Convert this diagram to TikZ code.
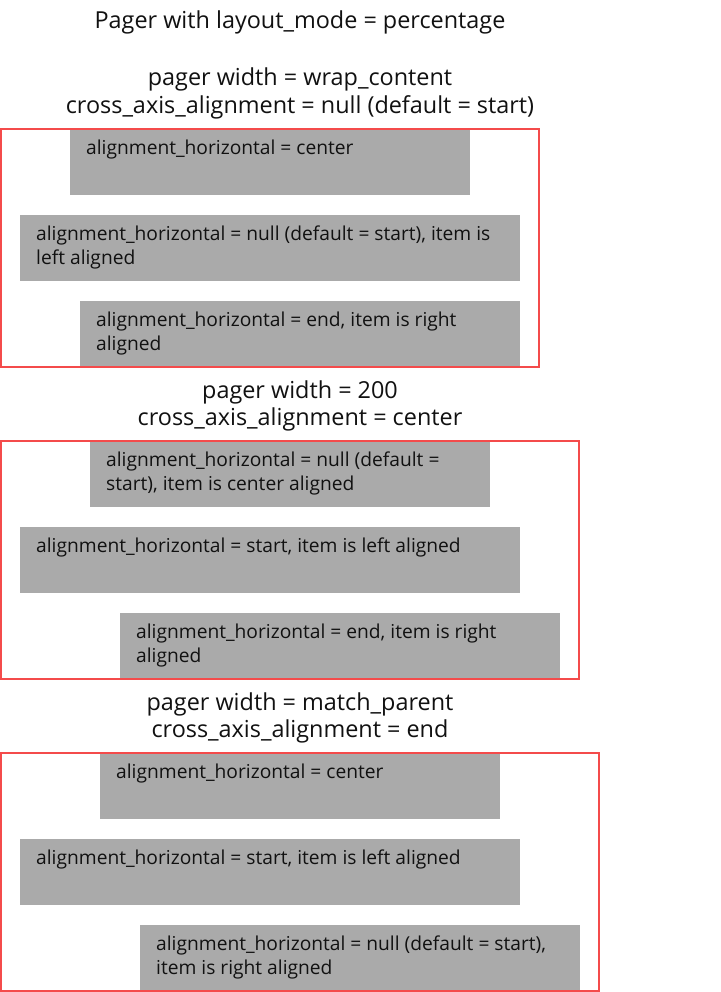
\documentclass[tikz,border=0pt]{standalone}
\usepackage{fontspec}
\setmainfont{Open Sans}
\definecolor{framered}{HTML}{F44B4B}
\definecolor{itemgray}{HTML}{AAAAAA}
\definecolor{inkc}{HTML}{111111}
\begin{document}
\begin{tikzpicture}[x=1pt,y=-1pt,
  item/.style={fill=itemgray},
  pagerframe/.style={draw=framered, line width=2pt},
  itemtext/.style={anchor=base west, inner sep=0pt, font=\fontsize{19.2}{24}\selectfont, text=inkc},
  header/.style={anchor=base, inner sep=0pt, font=\fontsize{23.4}{28}\selectfont, text=inkc}]
\useasboundingbox[fill=white] (0,0) rectangle (720,992);

% Title
\node[header] (title) at (300,28.7) {Pager with layout\_mode = percentage};

% ---------- Pager 1 ----------
\node[header] (h1a) at (300,86) {pager width = wrap\_content};
\node[header] (h1b) at (300,113.5) {cross\_axis\_alignment = null (default = start)};
\fill[item] (70,129) rectangle (470,195);
\fill[item] (20,215) rectangle (520,281);
\fill[item] (80,301) rectangle (520,367);
\node[itemtext] (p1a) at (86,154.7) {alignment\_horizontal = center};
\node[itemtext] (p1b1) at (36,240.7) {alignment\_horizontal = null (default = start), item is};
\node[itemtext] (p1b2) at (36,264.7) {left aligned};
\node[itemtext] (p1c1) at (96,326.7) {alignment\_horizontal = end, item is right};
\node[itemtext] (p1c2) at (96,350.7) {aligned};
\draw[pagerframe] (1,129) rectangle (539,367);

% ---------- Pager 2 ----------
\node[header] (h2a) at (300,398) {pager width = 200};
\node[header] (h2b) at (300,425.5) {cross\_axis\_alignment = center};
\fill[item] (90,441) rectangle (490,507);
\fill[item] (20,527) rectangle (520,593);
\fill[item] (120,613) rectangle (560,679);
\node[itemtext] (p2a1) at (106,466.7) {alignment\_horizontal = null (default =};
\node[itemtext] (p2a2) at (106,490.7) {start), item is center aligned};
\node[itemtext] (p2b) at (36,552.7) {alignment\_horizontal = start, item is left aligned};
\node[itemtext] (p2c1) at (136,638.7) {alignment\_horizontal = end, item is right};
\node[itemtext] (p2c2) at (136,662.7) {aligned};
\draw[pagerframe] (1,441) rectangle (579,679);

% ---------- Pager 3 ----------
\node[header] (h3a) at (300,710) {pager width = match\_parent};
\node[header] (h3b) at (300,737.5) {cross\_axis\_alignment = end};
\fill[item] (100,753) rectangle (500,819);
\fill[item] (20,839) rectangle (520,905);
\fill[item] (140,925) rectangle (580,991);
\node[itemtext] (p3a) at (116,778.7) {alignment\_horizontal = center};
\node[itemtext] (p3b) at (36,864.7) {alignment\_horizontal = start, item is left aligned};
\node[itemtext] (p3c1) at (156,950.7) {alignment\_horizontal = null (default = start),};
\node[itemtext] (p3c2) at (156,974.7) {item is right aligned};
\draw[pagerframe] (1,753) rectangle (599,991);
\end{tikzpicture}
\end{document}
